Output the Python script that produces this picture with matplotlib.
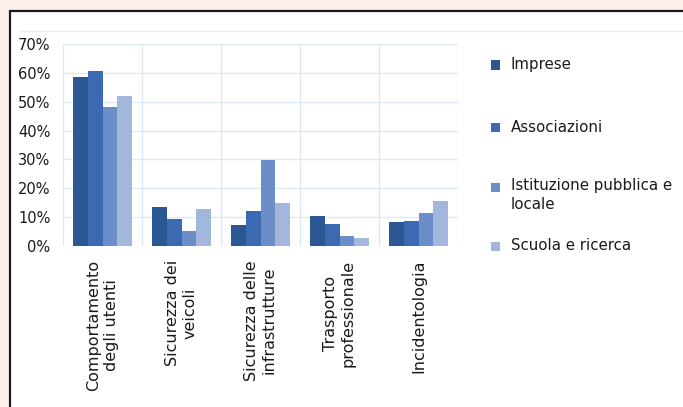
import matplotlib
matplotlib.use("Agg")
import matplotlib.pyplot as plt
from matplotlib.patches import Rectangle
from matplotlib.lines import Line2D
import numpy as np

categories = ["Comportamento\ndegli utenti", "Sicurezza dei\nveicoli",
              "Sicurezza delle\ninfrastrutture", "Trasporto\nprofessionale",
              "Incidentologia"]
series_names = ["Imprese", "Associazioni", "Istituzione pubblica e\nlocale", "Scuola e ricerca"]
imprese = [58.5, 13.6, 7.3, 10.5, 8.3]
associazioni = [60.5, 9.2, 12.2, 7.5, 8.8]
istituzione = [48.3, 5.3, 29.8, 3.6, 11.3]
scuola = [52.1, 12.7, 14.8, 2.7, 15.5]
values = [imprese, associazioni, istituzione, scuola]
colors = ["#2b5793", "#3b6ab2", "#6b8ec8", "#a3b7dc"]
yticks = [0, 10, 20, 30, 40, 50, 60, 70]

W, H = 683, 407
fig = plt.figure(figsize=(W / 100, H / 100), dpi=100)
fig.patch.set_facecolor("#fcf0ea")

# white panel with dark border
fig.patches.append(Rectangle((10 / W, -0.05), 1.0, (H - 11) / H + 0.05,
                             transform=fig.transFigure, facecolor="white",
                             edgecolor="#1a1a1a", linewidth=1.6, zorder=-5))
fig.lines.append(Line2D([20 / W, 1.0], [(H - 31) / H] * 2, transform=fig.transFigure,
                        color="#e3edf7", linewidth=1.0, zorder=-4))

ax = fig.add_axes([63 / W, (H - 246) / H, (458 - 63) / W, (246 - 44) / H])
ax.set_zorder(5)
ax.set_facecolor("none")
x = np.arange(len(categories))
bw = 0.75 / 4
for i, (vals, c) in enumerate(zip(values, colors)):
    ax.bar(x + (i - 1.5) * bw, vals, width=bw, color=c, zorder=3, linewidth=0)

ax.set_xlim(-0.5, len(categories) - 0.5)
ax.set_ylim(0, 70)
for yv in yticks[1:]:
    ax.axhline(yv, color="#dde9f5", linewidth=1.0, zorder=1)
for xv in np.arange(-0.5, len(categories), 1.0):
    ax.axvline(xv, color="#dde9f5", linewidth=1.0, zorder=1)
for s in ax.spines.values():
    s.set_visible(False)

ax.set_yticks(yticks)
ax.set_yticklabels([f"{v}%" for v in yticks], fontsize=10.5, color="#1a1a1a",
                   family="DejaVu Sans")
ax.set_xticks(x)
ax.set_xticklabels(categories, rotation=90, fontsize=11.5, color="#1a1a1a",
                   linespacing=1.2, va="top", ha="center", multialignment="center",
                   family="DejaVu Sans")
ax.tick_params(axis="both", length=0)
ax.tick_params(axis="y", pad=9)
ax.tick_params(axis="x", pad=10)

# legend (manual)
leg_y = [65, 127, 187, 246]
for name, c, yy in zip(series_names, colors, leg_y):
    fig.patches.append(Rectangle((491 / W, (H - yy - 4.5) / H), 9 / W, 9 / H,
                                 transform=fig.transFigure, facecolor=c,
                                 edgecolor="none", zorder=3))
    if "\n" in name:
        fig.text(511 / W, (H - yy + 9) / H, name, fontsize=10.8, color="#1a1a1a",
                 va="top", ha="left", family="DejaVu Sans", linespacing=1.35)
    else:
        fig.text(511 / W, (H - yy) / H, name, fontsize=10.8, color="#1a1a1a",
                 va="center", ha="left", family="DejaVu Sans")

fig.savefig("out.png", dpi=100, facecolor=fig.get_facecolor())
